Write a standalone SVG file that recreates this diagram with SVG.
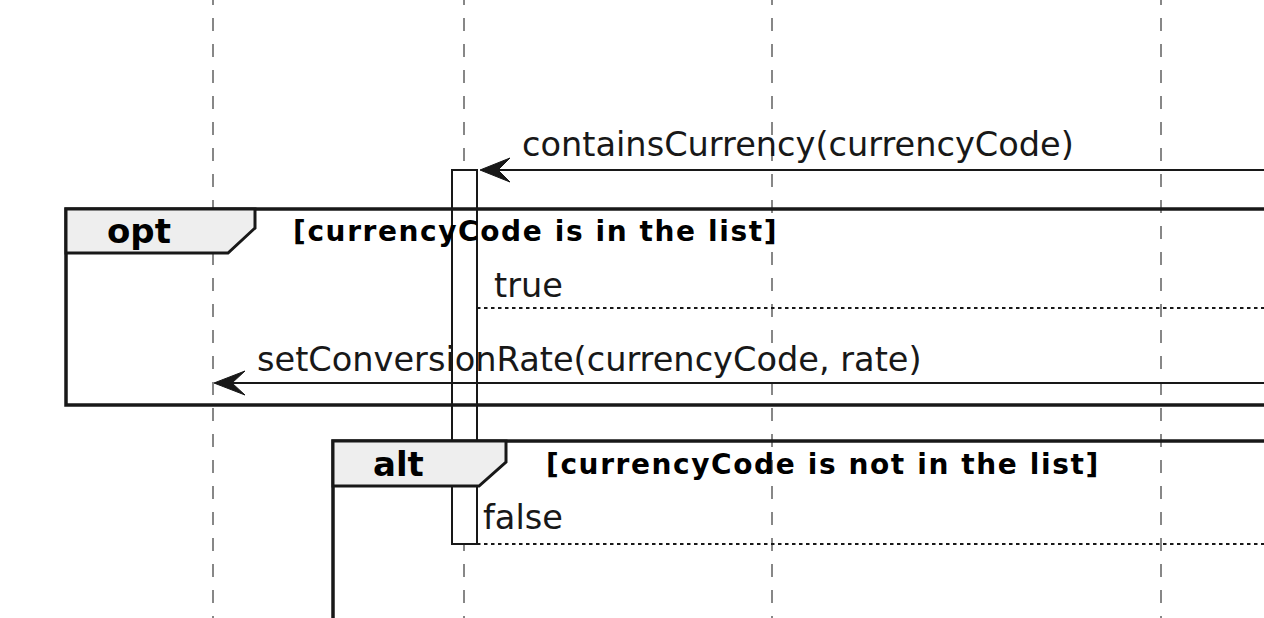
<svg xmlns="http://www.w3.org/2000/svg" width="1264" height="618" viewBox="0 0 1264 618">
  <defs>
    <style>
      .life { stroke: #555; stroke-width: 1.4; stroke-dasharray: 13 13; fill: none; }
      .msg { stroke: #181818; stroke-width: 2; fill: none; }
      .ret { stroke: #181818; stroke-width: 2; stroke-dasharray: 3.5 3.5; fill: none; }
      .head { fill: #181818; stroke: #181818; stroke-width: 1; }
      .frame { stroke: #181818; stroke-width: 3.5; fill: none; }
      .tab { stroke: #181818; stroke-width: 3; fill: #EEEEEE; }
      .act { stroke: #181818; stroke-width: 2; fill: #FFFFFF; }
      .t { font-family: "DejaVu Sans", sans-serif; font-size: 33.6px; fill: #181818; }
      .kw { font-family: "DejaVu Sans", sans-serif; font-size: 34px; font-weight: bold; fill: #000; }
      .guard { font-family: "DejaVu Sans", sans-serif; font-size: 28px; font-weight: bold; letter-spacing: 1.6px; fill: #000; }
    </style>
  </defs>
  <rect width="1264" height="618" fill="#FFFFFF"/>

  <g id="lifelines">
    <line class="life" x1="213" y1="-8" x2="213" y2="618"/>
    <line class="life" x1="464" y1="-8" x2="464" y2="618"/>
    <line class="life" x1="772" y1="-8" x2="772" y2="618"/>
    <line class="life" x1="1161" y1="-8" x2="1161" y2="618"/>
  </g>

  <g id="activation">
    <rect class="act" x="452" y="170" width="25" height="374"/>
  </g>

  <g id="opt-frame">
    <rect class="frame" x="66" y="209" width="1230" height="196"/>
    <polygon class="tab" points="66,209 255,209 255,228 228,253 66,253"/>
    <text class="kw" x="107" y="243">opt</text>
    <text class="guard" x="293" y="241">[currencyCode is in the list]</text>
  </g>

  <g id="alt-frame">
    <rect class="frame" x="333" y="441" width="1000" height="260"/>
    <polygon class="tab" points="333,441 506,441 506,462 479,486 333,486"/>
    <text class="kw" x="373" y="476">alt</text>
    <text class="guard" x="546" y="474">[currencyCode is not in the list]</text>
  </g>

  <g id="connectors">
    <line class="msg" x1="1270" y1="170" x2="482" y2="170"/>
    <polygon class="head" points="480,170 510,158 498,170 510,182"/>
    <text class="t" x="522" y="156">containsCurrency(currencyCode)</text>

    <line class="ret" x1="477" y1="308" x2="1270" y2="308"/>
    <text class="t" x="494" y="297">true</text>

    <line class="msg" x1="1270" y1="383" x2="216" y2="383"/>
    <polygon class="head" points="214,383 245,371 232,383 245,395"/>
    <text class="t" x="257" y="371">setConversionRate(currencyCode, rate)</text>

    <line class="ret" x1="477" y1="544" x2="1270" y2="544"/>
    <text class="t" x="483" y="529">false</text>
  </g>
</svg>
